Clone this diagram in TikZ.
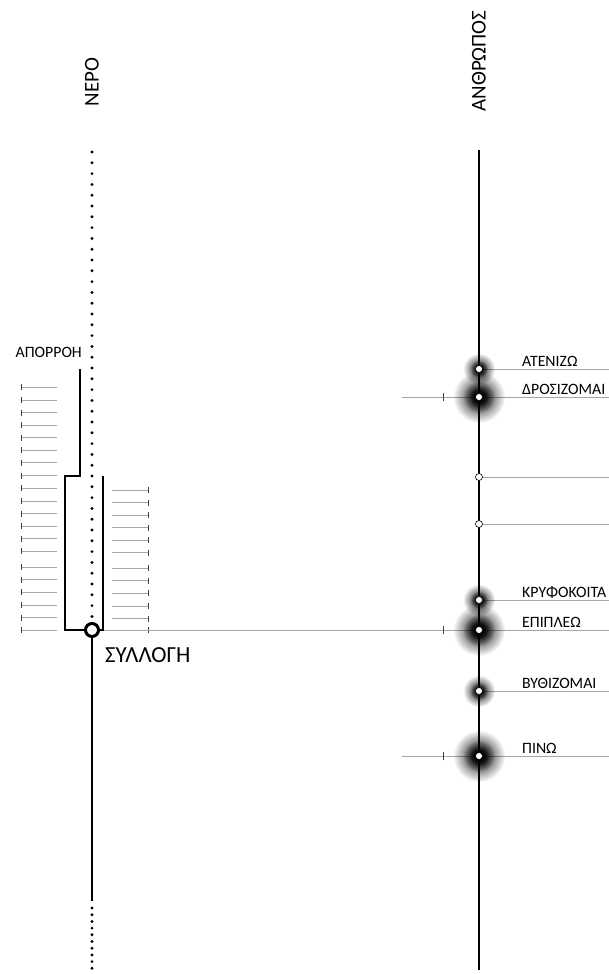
\documentclass[tikz,border=0pt]{standalone}
\usepackage{fontspec}
\setmainfont{Carlito}
\usetikzlibrary{fadings}

\tikzfading[name=glowfade, inner color=transparent!0, outer color=transparent!100]

\tikzset{
 axisline/.style={black, line width=2.8pt},
 dotline/.style={black, line width=3.2pt, line cap=round, dash pattern=on 0pt off #1},
 hairline/.style={black!35, line width=0.8pt},
 tickmark/.style={black!75, line width=0.8pt},
 spot/.style={circle, draw=black, fill=white, line width=0.6pt, minimum size=7pt, inner sep=0pt},
 lbl/.style={font=\fontsize{15.8}{17}\selectfont, inner sep=0pt},
 head/.style={font=\fontsize{21}{23}\selectfont, rotate=90, inner sep=0pt}
}
\newcommand{\glowbig}[1]{%
 \fill[black, path fading=glowfade] (#1) circle (26);
 \fill[black, path fading=glowfade] (#1) circle (16);
 \fill[black, path fading=glowfade] (#1) circle (10);}
\newcommand{\glowsmall}[1]{%
 \fill[black, path fading=glowfade] (#1) circle (16);
 \fill[black, path fading=glowfade] (#1) circle (9);}

\begin{document}
\begin{tikzpicture}[x=1pt, y=-1pt]
\useasboundingbox (0,0) rectangle (609,974);
\coordinate (redge) at (609,0);

% headings
\node[head] (nero) at (92,82) {ΝΕΡΟ};
\node[head] (anthr) at (479,61) {ΑΝΘΡΩΠΟΣ};

% points on the man axis
\coordinate (aten) at (479,369);
\coordinate (dros) at (479,397);
\coordinate (free1) at (479,477);
\coordinate (free2) at (479,524);
\coordinate (kryf) at (479,600);
\coordinate (epip) at (479,630);
\coordinate (vyth) at (479,691);
\coordinate (pino) at (479,756);

% left grid of short lines
\foreach \y in {387,400,412.5,425,437.5,450,462.5,475.5,488,501,513.5,526,538.5,551,567,579.5,592,605,617.5,630} {
 \draw[hairline] (21,\y) -- (57,\y);
 \draw[tickmark] (21,\y-3) -- (21,\y+3);
}
\foreach \y in {490,502.5,515,527.5,540,552.5,568,580.5,593,606,618.5,630} {
 \draw[hairline] (112,\y) -- (148,\y);
 \draw[tickmark] (148,\y-3) -- (148,\y+3);
}

% collection point
\node[circle, draw=black, fill=white, line width=3pt, minimum size=13pt, inner sep=0pt] (coll) at (92,630) {};
\draw[hairline] (coll.east) -- (coll -| redge);
\draw[tickmark] (443,626) -- (443,634);

% horizontal lines
\foreach \p in {aten,free1,free2,kryf,vyth} {
 \draw[hairline] (\p) -- (\p -| redge);
}
\foreach \p in {dros,pino} {
 \draw[hairline] ([xshift=-77pt]\p) -- (\p -| redge);
 \draw[tickmark] ([xshift=-36pt,yshift=-4pt]\p) -- ([xshift=-36pt,yshift=4pt]\p);
}

% glows
\glowsmall{aten}
\glowbig{dros}
\glowsmall{kryf}
\glowbig{epip}
\glowsmall{vyth}
\glowbig{pino}

% axes
\draw[dotline=10.8pt] (92,152) -- (92,620);
\draw[axisline] (coll.south) -- (92,901);
\draw[dotline=6.7pt] (92,908) -- (92,974);
\draw[axisline] (479,150) -- (479,970);

% runoff channel
\draw[axisline, line width=2.6pt] (80,369) -- (80,476) -- (65,476) -- (65,630) -- (coll.west);
\draw[axisline, line width=2.6pt] (103,476) -- (103,630) -- (coll.east);

% spots
\foreach \p in {aten,dros,free1,free2,kryf,epip,vyth,pino} {
 \node[spot] (\p-spot) at (\p) {};
}

% labels
\node[lbl, anchor=east] (apor) at (82,352) {ΑΠΟΡΡΟΗ};
\node[lbl, anchor=base west, font=\fontsize{23}{25}\selectfont] (syll) at (105,662) {ΣΥΛΛΟΓΗ};
\node[lbl, anchor=base west] (aten-lbl) at (522,366) {ΑΤΕΝΙΖΩ};
\node[lbl, anchor=base west] (dros-lbl) at (522,394) {ΔΡΟΣΙΖΟΜΑΙ};
\node[lbl, anchor=base west] (kryf-lbl) at (522,597) {ΚΡΥΦΟΚΟΙΤΑ};
\node[lbl, anchor=base west] (epip-lbl) at (522,627) {ΕΠΙΠΛΕΩ};
\node[lbl, anchor=base west] (vyth-lbl) at (522,688) {ΒΥΘΙΖΟΜΑΙ};
\node[lbl, anchor=base west] (pino-lbl) at (522,753) {ΠΙΝΩ};
\end{tikzpicture}
\end{document}
